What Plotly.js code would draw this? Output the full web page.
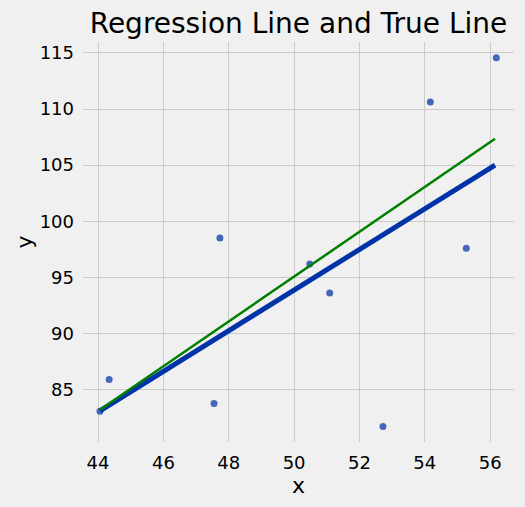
<!DOCTYPE html>
<html><head><meta charset="utf-8">
<script src="https://cdn.plot.ly/plotly-3.0.1.min.js"></script>
<style>body{margin:0;background:#f0f0f0}#c{width:525px;height:507px}</style>
</head><body><div id="c"></div>
<script>
const xData = [44.06, 44.34, 47.55, 47.73, 50.48, 51.09, 52.72, 54.17, 55.27, 56.19];
const yData = [83.06, 85.9, 83.75, 98.51, 96.19, 93.6, 81.7, 110.63, 97.59, 114.58];
const lineX = [44.06, 56.15];
const regressionY = [83.1, 105.0];
const trueY = [83.2, 107.35];
const xTicks = [44, 46, 48, 50, 52, 54, 56];
const yTicks = [85, 90, 95, 100, 105, 110, 115];

const font = {family: 'DejaVu Sans', color: '#000'};
const traces = [
  {x: xData, y: yData, mode: 'markers', type: 'scatter',
   marker: {color: '#4466bb', size: 7}},
  {x: lineX, y: regressionY, mode: 'lines', type: 'scatter',
   line: {color: '#0033a8', width: 5}},
  {x: lineX, y: trueY, mode: 'lines', type: 'scatter',
   line: {color: '#008000', width: 2.5}}
];
const layout = {
  width: 525, height: 507,
  paper_bgcolor: '#f0f0f0', plot_bgcolor: '#f0f0f0',
  showlegend: false,
  margin: {l: 83.3, r: 11, t: 42.3, b: 65.3},
  font: Object.assign({size: 16}, font),
  title: {text: 'Regression Line and True Line', font: Object.assign({size: 28}, font),
          x: 0.5, xanchor: 'center', xref: 'paper', y: 0.955, yanchor: 'middle'},
  xaxis: {range: [43.54, 56.73], tickvals: xTicks, ticktext: xTicks.map(String),
          showgrid: true, gridcolor: '#cbcbcb', gridwidth: 1.3, zeroline: false, showline: false,
          ticks: '', ticklabelstandoff: 8, tickfont: Object.assign({size: 18}, font),
          title: {text: 'x', font: Object.assign({size: 22}, font), standoff: 4}},
  yaxis: {range: [80.32, 115.98], tickvals: yTicks, ticktext: yTicks.map(String),
          showgrid: true, gridcolor: '#cbcbcb', gridwidth: 1.3, zeroline: false, showline: false,
          ticks: '', ticklabelstandoff: 8, tickfont: Object.assign({size: 18}, font),
          title: {text: 'y', font: Object.assign({size: 22}, font), standoff: 0}}
};
Plotly.newPlot('c', traces, layout, {displayModeBar: false});
</script></body></html>
